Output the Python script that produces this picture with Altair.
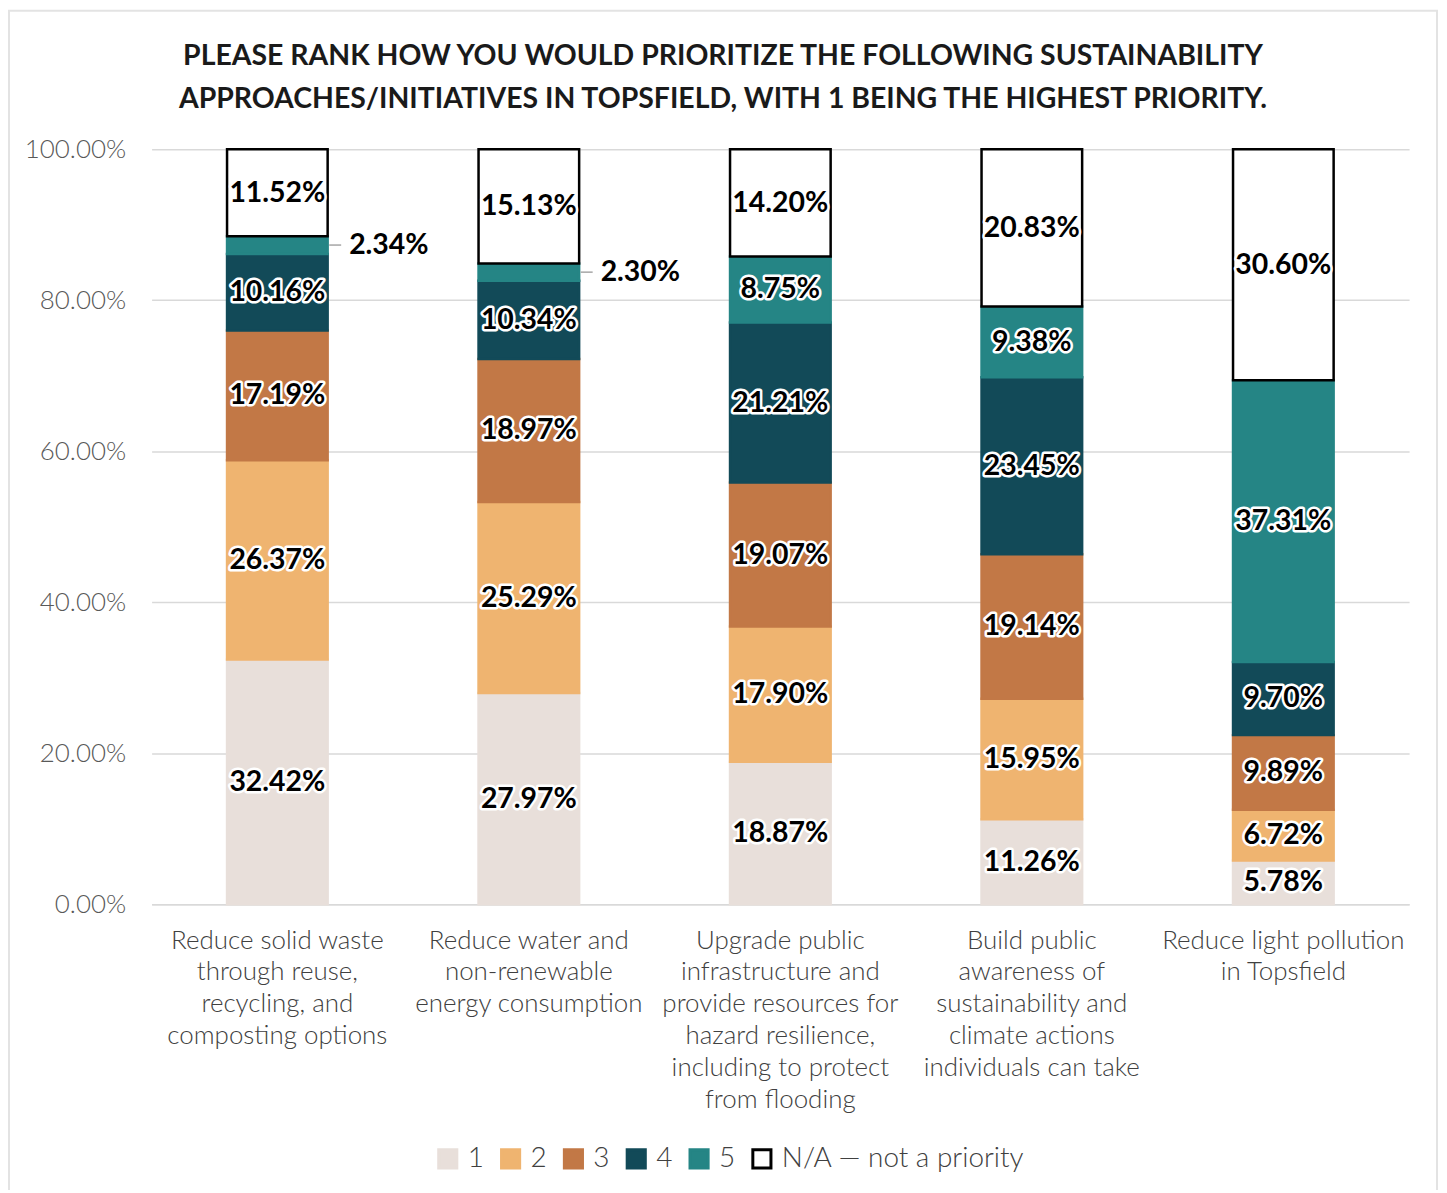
import altair as alt
import pandas as pd

categories = [
    "Reduce solid waste|through reuse,|recycling, and|composting options",
    "Reduce water and|non-renewable|energy consumption",
    "Upgrade public|infrastructure and|provide resources for|hazard resilience,|including to protect|from flooding",
    "Build public|awareness of|sustainability and|climate actions|individuals can take",
    "Reduce light pollution|in Topsfield",
]
series = ["1", "2", "3", "4", "5", "N/A \u2014 not a priority"]
rank1 = [32.42, 27.97, 18.87, 11.26, 5.78]
rank2 = [26.37, 25.29, 17.90, 15.95, 6.72]
rank3 = [17.19, 18.97, 19.07, 19.14, 9.89]
rank4 = [10.16, 10.34, 21.21, 23.45, 9.70]
rank5 = [2.34, 2.30, 8.75, 9.38, 37.31]
rank_na = [11.52, 15.13, 14.20, 20.83, 30.60]
fill_colors = ["#E8DFDA", "#EFB470", "#C27846", "#124A58", "#258585", "#FFFFFF"]
stroke_colors = ["#E8DFDA", "#EFB470", "#C27846", "#124A58", "#258585", "#000000"]
title_lines = [
    "Please rank how you would prioritize the following sustainability",
    "approaches/initiatives in Topsfield, with 1 being the highest priority.",
]

rows = []
for s_idx, (s, vals) in enumerate(zip(series, [rank1, rank2, rank3, rank4, rank5, rank_na])):
    for c, v in zip(categories, vals):
        rows.append({"category": c, "series": s, "idx": s_idx, "value": v / 100.0,
                     "label": f"{v:.2f}%"})
df = pd.DataFrame(rows)

FONT = "Lato"

base = alt.Chart(df).transform_stack(
    stack="value", groupby=["category"], as_=["y0", "y1"],
    sort=[alt.SortField("idx", order="ascending")],
).transform_calculate(mid="(datum.y0 + datum.y1) / 2")

xenc = alt.X("category:N", sort=categories, title=None,
             scale=alt.Scale(paddingInner=0.6, paddingOuter=0.3),
             axis=alt.Axis(labelExpr="split(datum.label, '|')", labelAngle=0,
                           labelFont=FONT, labelFontSize=26, labelFontWeight=300,
                           labelColor="#404040", labelLineHeight=32, labelPadding=23,
                           labelLimit=0, ticks=False, domainColor="#D9D9D9",
                           domainWidth=1.5, labelBaseline="top"))

yscale = alt.Scale(domain=[0, 1], nice=False)

bars = base.mark_bar(strokeWidth=2.5).encode(
    x=xenc,
    y=alt.Y("y0:Q", scale=yscale, title=None,
            axis=alt.Axis(format=".2%", values=[0, 0.2, 0.4, 0.6, 0.8, 1.0],
                          labelFont=FONT, labelFontSize=26, labelFontWeight=300,
                          labelColor="#595959", labelPadding=26, ticks=False,
                          domain=False, gridColor="#D9D9D9", gridWidth=1.5)),
    y2="y1:Q",
    fill=alt.Fill("series:N", scale=alt.Scale(domain=series, range=fill_colors),
                  title=None,
                  legend=alt.Legend(orient="none", direction="horizontal",
                                    legendX=283, legendY=998,
                                    symbolType="square", symbolSize=330,
                                    symbolStrokeWidth=3, labelLimit=0,
                                    labelFont=FONT, labelFontSize=28,
                                    labelFontWeight=300, labelColor="#404040",
                                    columnPadding=10, labelOffset=6)),
    stroke=alt.Stroke("series:N", scale=alt.Scale(domain=series, range=stroke_colors),
                      title=None),
    order=alt.Order("idx:Q"),
)

inside = base.transform_filter("datum.value >= 0.03")

halo = inside.mark_text(font=FONT, fontSize=28.5, fontWeight="bold", color="white",
                        stroke="white", strokeWidth=5, strokeJoin="round",
                        baseline="middle").encode(
    x=alt.X("category:N", sort=categories), y=alt.Y("mid:Q", scale=yscale), text="label:N")

labels = inside.mark_text(font=FONT, fontSize=28.5, fontWeight="bold", color="black",
                          baseline="middle").encode(
    x=alt.X("category:N", sort=categories), y=alt.Y("mid:Q", scale=yscale), text="label:N")

outside = base.transform_filter("datum.value < 0.03")

leader = outside.mark_rule(color="#A6A6A6", strokeWidth=1.5, xOffset=52, x2Offset=64).encode(
    x=alt.X("category:N", sort=categories), x2="category:N",
    y=alt.Y("mid:Q", scale=yscale))

out_labels = outside.mark_text(font=FONT, fontSize=28.5, fontWeight="bold", color="black",
                               align="left", baseline="middle", dx=72).encode(
    x=alt.X("category:N", sort=categories), y=alt.Y("mid:Q", scale=yscale), text="label:N")

border = alt.Chart(pd.DataFrame({"a": [0]})).mark_rect(
    filled=False, stroke="#E3E3E3", strokeWidth=2).encode(
    x=alt.value(-143), x2=alt.value(1289), y=alt.value(-139), y2=alt.value(1100))

chart = alt.layer(border, bars, halo, labels, leader, out_labels).properties(
    width=1261, height=757,
    autosize=alt.AutoSizeParams(type="none"),
    padding={"left": 144, "top": 140, "right": 30, "bottom": 285},
    title=alt.Title(text=[t.upper() for t in title_lines], font=FONT, fontSize=28.5,
                    fontWeight="bold", color="#1A1A1A", anchor="middle",
                    frame="bounds", lineHeight=43, offset=0, dy=104),
).configure_view(stroke=None)

chart.save("out.html", embed_options={"renderer": "svg", "actions": False})
